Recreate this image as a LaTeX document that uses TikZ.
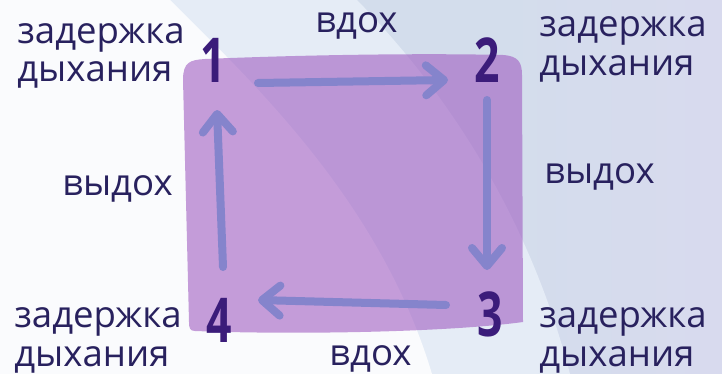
\documentclass[tikz,border=0pt]{standalone}
\usepackage{fontspec}
\setmainfont{Open Sans}
\usepackage{xcolor}
\usepackage{tikz}
\usetikzlibrary{arrows.meta}
\definecolor{txt}{HTML}{28215E}
\definecolor{num}{HTML}{3B1C7A}
\definecolor{arr}{HTML}{8584CC}
\definecolor{sqc}{RGB}{160,94,194}
\definecolor{bgw}{HTML}{FAFBFD}
\definecolor{bgb}{HTML}{E5ECF6}
\definecolor{bgr}{HTML}{D3DDEC}
\definecolor{bgl}{HTML}{D8DAEE}
\begin{document}
\begin{tikzpicture}[x=0.025cm,y=-0.025cm,
 lbl/.style={anchor=base west,align=left,inner sep=0pt,text=txt,font=\fontsize{26}{27.7}\selectfont},
 dig/.style={text=num,font=\fontsize{44}{44}\selectfont\bfseries,inner sep=0pt,xscale=0.72},
 arw/.style={draw=arr,line width=2mm,line cap=round,-{Straight Barb[length=4.5mm,width=7.5mm,round]}},
 sq/.style={fill=sqc,fill opacity=0.6}]
\useasboundingbox (0,0) rectangle (722,374);
% background bands
\fill[bgr] (0,0) rectangle (500,374);
\shade[left color=bgr,right color=bgl] (500,0) rectangle (722,374);
\fill[bgb] (0,0) -- (357,0) .. controls (450,95) and (530,220) .. (570,374) -- (0,374) -- cycle;
\fill[bgw] (0,0) -- (170,0) .. controls (250,80) and (380,200) .. (432,374) -- (0,374) -- cycle;
% square
\fill[sq] (183,80) .. controls (183,62) and (190,60) .. (205,59) .. controls (300,55) and (420,53) .. (503,55) .. controls (518,56) and (522,62) .. (522,75) -- (523,322) .. controls (450,332) and (300,335) .. (195,331) .. controls (190,331) and (189,328) .. (189,322) -- cycle;
% corner numbers
\node[dig] (n1) at (213,60) {1};
\node[dig] (n2) at (487,60) {2};
\node[dig] (n3) at (490,314) {3};
\node[dig] (n4) at (219,320) {4};
% arrows
\coordinate (a1) at (258,83);
\coordinate (b1) at (448,80);
\coordinate (a2) at (487,100);
\coordinate (b2) at (487,270);
\coordinate (a3) at (446,305);
\coordinate (b3) at (258,300);
\coordinate (a4) at (223,267);
\coordinate (b4) at (217,110);
\draw[arw] (a1) -- (b1);
\draw[arw] (a2) -- (b2);
\draw[arw] (a3) -- (b3);
\draw[arw] (a4) -- (b4);
% labels
\node[lbl] (h1) at (17,82) {задержка\\дыхания};
\node[lbl] (h2) at (539,75) {задержка\\дыхания};
\node[lbl] (h3) at (539,366) {задержка\\дыхания};
\node[lbl] (h4) at (14,366) {задержка\\дыхания};
\node[lbl] (v1) at (315,33) {вдох};
\node[lbl] (v2) at (329,365) {вдох};
\node[lbl] (w1) at (544,183) {выдох};
\node[lbl] (w2) at (62,195) {выдох};
\end{tikzpicture}
\end{document}
